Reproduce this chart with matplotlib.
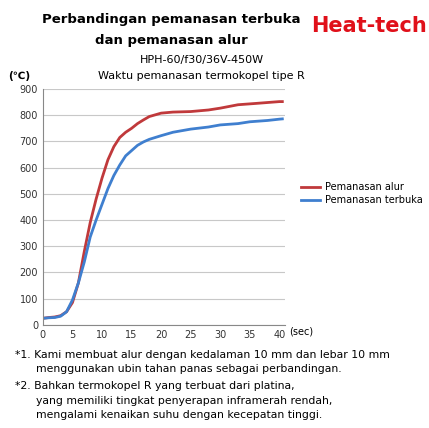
import matplotlib.pyplot as plt

t_red = [0, 1, 2, 3, 4, 5, 6, 7, 8, 9, 10, 11, 12, 13, 14, 15, 16, 17, 18, 20, 22, 25, 28, 30, 33, 36, 40, 40.5]
red = [25, 28, 30, 35, 50, 85, 160, 280, 390, 480, 560, 630, 680, 715, 735, 750, 768, 782, 795, 808, 812, 814, 820, 827, 840, 845, 852, 852]
t_blue = [0, 1, 2, 3, 4, 5, 6, 7, 8, 9, 10, 11, 12, 13, 14, 15, 16, 17, 18, 20, 22, 25, 28, 30, 33, 35, 38, 40, 40.5]
blue = [25, 27, 28, 33, 50, 95, 160, 240, 335, 400, 460, 520, 570, 610, 645, 665, 685, 698, 708, 722, 735, 747, 755, 763, 768, 775, 780, 785, 786]

fig = plt.figure(figsize=(4.29, 4.28), dpi=100)
ax = fig.add_axes([0.100, 0.241, 0.565, 0.551])
ax.plot(t_red, red, color='#c0393b', lw=2, label='Pemanasan alur')
ax.plot(t_blue, blue, color='#3f7fcf', lw=2, label='Pemanasan terbuka')
ax.set_xlim(0, 41)
ax.set_ylim(0, 900)
ax.set_xticks(range(0, 41, 5))
ax.set_yticks(range(0, 901, 100))
ax.grid(axis='y', color='#c8c8c8', lw=0.8)
for s in ['top', 'right']:
    ax.spines[s].set_visible(False)
ax.spines['left'].set_color('#888888')
ax.spines['bottom'].set_color('#888888')
ax.tick_params(labelsize=7, length=0, colors='#333333')
ax.set_axisbelow(True)

fig.legend(loc='upper left', bbox_to_anchor=(0.69, 0.585), frameon=False,
           fontsize=7, handlelength=2, handletextpad=0.5, labelspacing=0.3, borderpad=0)

fig.text(0.40, 0.955, 'Perbandingan pemanasan terbuka', ha='center', va='center',
         fontsize=9.5, fontweight='bold')
fig.text(0.40, 0.905, 'dan pemanasan alur', ha='center', va='center',
         fontsize=9.5, fontweight='bold')
fig.text(0.86, 0.94, 'Heat-tech', ha='center', va='center', fontsize=15,
         fontweight='bold', color='#e0101a')
fig.text(0.47, 0.86, 'HPH-60/f30/36V-450W', ha='center', va='center', fontsize=8)
fig.text(0.47, 0.823, 'Waktu pemanasan termokopel tipe R', ha='center', va='center', fontsize=8)
fig.text(0.045, 0.823, '(℃)', ha='center', va='center', fontsize=7.5, fontweight='bold')
fig.text(0.675, 0.225, '(sec)', ha='left', va='center', fontsize=7)

notes = [(0.035, 0.17, '*1. Kami membuat alur dengan kedalaman 10 mm dan lebar 10 mm'),
         (0.085, 0.137, 'menggunakan ubin tahan panas sebagai perbandingan.'),
         (0.035, 0.097, '*2. Bahkan termokopel R yang terbuat dari platina,'),
         (0.085, 0.064, 'yang memiliki tingkat penyerapan inframerah rendah,'),
         (0.085, 0.031, 'mengalami kenaikan suhu dengan kecepatan tinggi.')]
for x, y, s in notes:
    fig.text(x, y, s, ha='left', va='center', fontsize=7.8)

fig.savefig('out.png', dpi=100, facecolor='white')
